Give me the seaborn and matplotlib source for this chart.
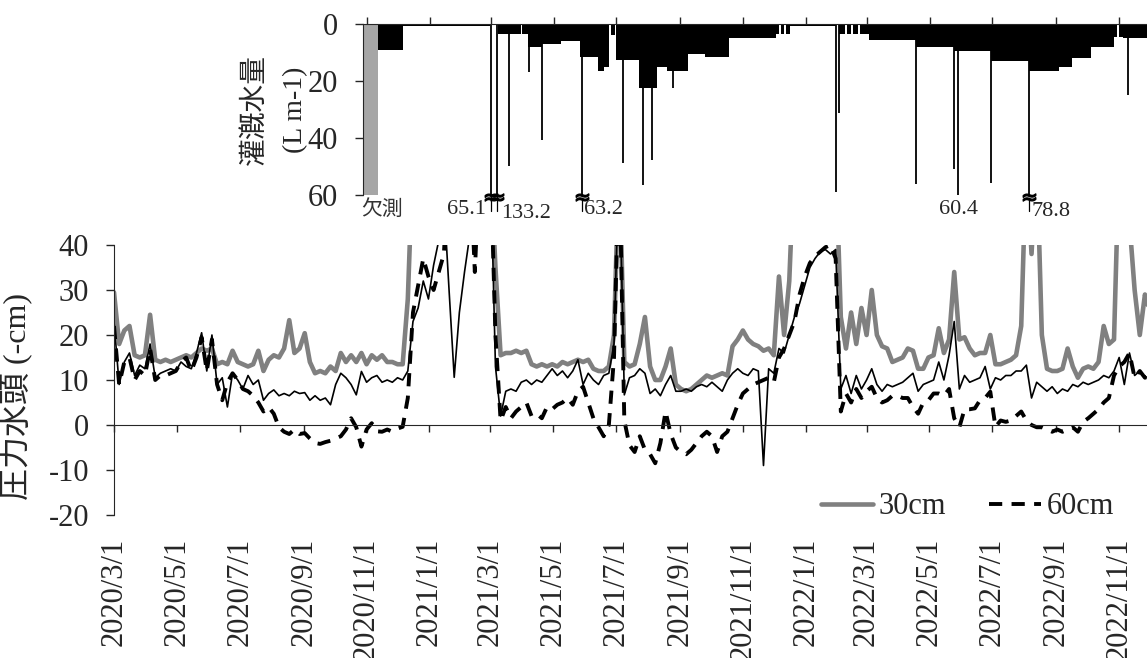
import numpy as np
import pandas as pd
import matplotlib
matplotlib.use("Agg")
import matplotlib.pyplot as plt
import seaborn as sns

sns.set_style("ticks")
plt.rcParams["font.family"] = ["Liberation Serif", "Noto Sans CJK JP"]
plt.rcParams["axes.unicode_minus"] = False

# pressure head, read every 5 days from 2020/3/1 (values above 40 run off the chart)
START = "2020-03-01"
STEP_DAYS = 5
P30 = [29.5, 18, 21, 22, 15.5, 15, 15.5, 24.5, 14.5, 14,
       14.5, 14, 14.5, 15, 15.5, 15, 16, 17, 16.5, 17,
       13.5, 14, 13.5, 16.5, 14, 13.5, 13, 13.5, 16.5, 12,
       14.5, 15.5, 15, 17, 23.3, 16, 17, 20.4, 14, 11.5,
       12, 11.5, 13, 12, 16, 14, 15.5, 14, 16, 13.5,
       15.5, 14.5, 15.5, 14, 14, 13.5, 13.5, 28, 60, 60,
       60, 60, 60, 60, 60, 60, 60, 60, 60, 60,
       60, 60, 60, 60, 35, 15.5, 16, 16, 16.5, 16,
       16.5, 13.5, 13, 13.5, 13, 13.5, 13, 14, 13.5, 14,
       14.5, 14, 14.5, 12.5, 12, 12, 13, 20, 60, 14,
       13, 13.5, 18, 24, 13, 10, 10, 13, 17, 9,
       8, 7.5, 8, 9, 10, 11, 10.5, 11, 11.5, 11,
       17.5, 19, 21, 19, 18, 17.5, 16.5, 17, 15.5, 33,
       20, 32, 60, 60, 60, 60, 60, 60, 60, 60,
       60, 24, 17, 25, 18, 26, 20, 30, 20, 17.5,
       17, 14, 14.5, 15, 17, 16.5, 12.5, 12.5, 15, 15.5,
       21.5, 16, 19, 34, 19, 19.5, 17, 15.5, 16, 16,
       20, 13.5, 13.5, 14, 14.5, 15.5, 22, 60, 38, 60,
       20, 12.5, 12, 12, 12.5, 17, 13, 10.5, 12.5, 13,
       12.5, 14, 22, 18, 19, 60, 60, 45, 30, 20,
       29, 25]
P60 = [22, 9, 14, 15, 10, 12, 11, 17, 10, 11,
       11, 11.5, 12, 14, 15, 12, 15, 19.5, 12, 19,
       9, 5.5, 9.5, 11.5, 10, 8, 7.5, 6.5, 5, 3,
       4, 2.5, -0.5, -1.5, -2, -1, -2, -1.8, -3, -4,
       -4.2, -3.8, -3.5, -3, -2.5, -1, 1.5, -0.5, -4.8, -1,
       0.4, -1.4, -1.5, -1, -1.5, -0.8, -0.4, 6, 25, 31,
       37, 33, 30, 34, 38, 60, 60, 60, 60, 60,
       34, 60, 60, 60, 20, 1, 4, 1.5, 3, 4,
       5, 2, 2.5, 1.5, 4, 3.5, 4.5, 5, 6, 4.5,
       7.5, 8.5, 5, 1.5, -0.5, -2.5, 0, 15, 60, 1,
       -4.5, -6, -2.5, -5.5, -6.5, -8.5, -4, 3, -2, -5,
       -6, -6.5, -5.5, -4, -2.5, -1.5, -2.5, -6, -2.5, -1.5,
       1.5, 4.5, 7, 8, 9, 9.5, 10, 10.5, 9.5, 15,
       17, 20, 23, 29, 33, 36, 37.5, 38.5, 39.5, 40,
       37, 3, 7, 5, 8, 6, 7.5, 8.5, 6, 5,
       5.5, 6.5, 6.5, 6, 6, 4, 2.5, 5, 5.5, 7,
       7, 6.5, 8, 1.5, -0.5, 3.5, 3.5, 3.7, 5.5, 6,
       7.4, -0.4, 1, 0.7, 1, 2, 3, 1, 0, -0.5,
       -0.5, -1, -1.5, -1, -1.5, -1, -0.5, -1.5, 0.7, 1.5,
       2.5, 3.5, 5, 6, 11, 13, 14, 16, 10.5, 12,
       10.5, 11]
P15 = [23, 9, 14, 16, 11, 13.3, 12.5, 18, 10.5, 11.5,
       12, 12.5, 12, 14, 13, 12.5, 16, 20.5, 12, 20,
       9, 10.5, 4, 11.5, 10, 8, 11, 9, 10, 5.5,
       7, 7.8, 6.5, 7, 6.5, 7.5, 7, 7.2, 5.5, 6.5,
       5.5, 6, 4.5, 9, 11.5, 10.5, 9, 6.7, 11.9, 9.5,
       10.5, 11, 9.5, 10, 9.5, 10.5, 10, 12, 23, 26,
       32, 28, 35.5, 41, 50, 30, 10.6, 25, 34, 42,
       60, 60, 60, 60, 13, 2, 7.5, 8, 7.5, 9.5,
       10, 9, 10, 9.5, 11, 12.5, 11, 12, 10.5, 12,
       14.5, 9, 11.5, 10, 9, 11, 11.5, 18, 60, 6.7,
       10.5, 11, 12.5, 11.5, 7, 8, 6.5, 9, 11, 7.5,
       7.5, 8, 7.5, 8.5, 9, 8.5, 9.5, 8.5, 7.5, 10,
       11.5, 12.5, 11.5, 11, 12.5, 12, -9, 12.5, 11.5, 17,
       16, 20, 24, 27, 31, 35, 37, 38.5, 39, 38,
       39, 8, 11, 7, 11, 8, 10, 12.5, 9, 7.5,
       9, 8.5, 9, 9.5, 10.5, 11.5, 7.5, 9, 9.5, 10,
       14, 10, 15.5, 23, 8, 11, 9.5, 10, 10.5, 13,
       8, 10.5, 10, 11, 11, 12, 12, 13.3, 6, 9.5,
       8.5, 7.5, 8.5, 7, 8, 7.5, 9, 8.5, 9.5, 9,
       9.5, 10, 11, 10.5, 12, 15, 9, 16, 11, 12,
       10.5, 11]

# irrigation: steady levels between dates, single-day peaks, missing period
IRR_START = ["2020-11-12", "2020-12-06", "2021-03-08", "2021-03-31", "2021-04-06",
             "2021-04-20", "2021-05-08", "2021-05-27", "2021-06-13", "2021-06-19",
             "2021-06-26", "2021-07-01", "2021-07-23", "2021-08-09", "2021-08-19",
             "2021-09-08", "2021-09-25", "2021-10-18", "2021-12-03", "2021-12-08",
             "2021-12-13", "2021-12-16", "2022-02-02", "2022-02-10", "2022-02-16",
             "2022-02-22", "2022-03-03", "2022-04-18", "2022-05-25", "2022-06-30",
             "2022-08-05", "2022-09-04", "2022-09-16", "2022-10-05", "2022-10-27",
             "2022-11-01", "2022-11-05"]
IRR_END = ["2020-12-06", "2021-02-28", "2021-03-30", "2021-04-06", "2021-04-20",
           "2021-05-08", "2021-05-27", "2021-06-13", "2021-06-19", "2021-06-24",
           "2021-06-30", "2021-07-23", "2021-08-09", "2021-08-19", "2021-09-08",
           "2021-09-25", "2021-10-18", "2021-12-03", "2021-12-06", "2021-12-11",
           "2021-12-16", "2022-01-30", "2022-02-08", "2022-02-14", "2022-02-20",
           "2022-03-03", "2022-04-18", "2022-05-25", "2022-06-30", "2022-08-05",
           "2022-09-04", "2022-09-16", "2022-10-05", "2022-10-27", "2022-10-30",
           "2022-11-05", "2022-12-01"]
IRR_LEVEL = [9.0, 0.8, 3.5, 3.5, 8.0,
             7.0, 6.0, 11.5, 16.5, 15.0,
             4.0, 12.5, 22.5, 15.0, 16.5,
             10.5, 11.5, 5.0, 3.5, 3.5,
             3.5, 0.8, 3.5, 3.5, 3.5,
             3.5, 5.5, 8.0, 9.5, 13.0,
             16.5, 15.0, 12.0, 8.0, 4.5,
             4.5, 5.0]
PEAK_DATE = ["2021-03-01", "2021-03-07", "2021-03-19", "2021-04-07", "2021-04-20",
             "2021-05-29", "2021-06-23", "2021-07-07", "2021-07-27", "2021-08-05",
             "2021-08-25", "2022-01-30", "2022-02-02", "2022-04-18", "2022-05-25",
             "2022-05-29", "2022-06-30", "2022-08-05", "2022-11-10"]
PEAK_VALUE = [65.1, 133.2, 50, 16.7, 40.7,
              63.2, 15, 48.9, 56.5, 47.7,
              22.5, 58.8, 31.3, 56, 51,
              60.4, 55.9, 78.8, 24.9]
MISSING = ("2020-10-28", "2020-11-12")

TICK_DATES = ["2020-03-01", "2020-05-01", "2020-07-01", "2020-09-01", "2020-11-01",
              "2021-01-01", "2021-03-01", "2021-05-01", "2021-07-01", "2021-09-01",
              "2021-11-01", "2022-01-01", "2022-03-01", "2022-05-01", "2022-07-01",
              "2022-09-01", "2022-11-01"]

# where the labels of the off-scale peaks sit: (ha, top in L m-1, shift in days)
PEAK_LABEL_STYLE = {"2021-03-01": ("right", 61.8, -5), "2021-03-07": ("left", 63.0, 4),
                    "2021-05-29": ("left", 61.8, 2), "2022-05-29": ("center", 61.8, 0),
                    "2022-08-05": ("left", 62.5, 3)}

X_MIN, X_MAX = pd.Timestamp("2020-03-01"), pd.Timestamp("2022-11-28")
X_MIN_TOP = pd.Timestamp(MISSING[0])
FS = 22

df = pd.DataFrame({
    "date": pd.date_range(START, periods=len(P30), freq=f"{STEP_DAYS}D"),
    "p30": P30, "p60": P60, "p15": P15,
})
ticks = pd.to_datetime(TICK_DATES)
tick_labels = [f"{d.year}/{d.month}/{d.day}" for d in ticks]

W, H = 1147, 658
fig = plt.figure(figsize=(W / 100, H / 100), dpi=100)
ax = fig.add_axes([114 / W, 1 - 515 / H, 1 - 114 / W, 270 / H])
ax2 = fig.add_axes([363 / W, 1 - 195 / H, 1 - 363 / W, 171 / H])

# ---- pressure head panel
sns.lineplot(data=df, x="date", y="p30", ax=ax, color="#808080", lw=3.3, label="30cm")
sns.lineplot(data=df, x="date", y="p60", ax=ax, color="black", lw=2.8,
             linestyle=(0, (3.4, 2.4)), label="60cm")
sns.lineplot(data=df, x="date", y="p15", ax=ax, color="black", lw=1.2, legend=False)

# spine first: moving it resets the ticks
ax.spines["bottom"].set_position(("data", 0))
for s in ["top", "right"]:
    ax.spines[s].set_visible(False)
ax.set_xlim(X_MIN, X_MAX)
ax.set_ylim(-20, 40)
ax.set_yticks(range(-20, 41, 10))
ax.set_xticks(ticks)
ax.set_xticklabels(tick_labels)
ax.tick_params(axis="x", direction="out", length=5, width=1, pad=76, labelsize=FS,
               labelrotation=90)
ax.tick_params(axis="y", direction="out", length=6, width=1, pad=12, labelsize=FS)
ax.set_xlabel("")
ax.set_ylabel("圧力水頭 (-cm)", fontsize=23)
ax.yaxis.set_label_coords(-0.078, 0.44)
ax.legend(loc="lower right", bbox_to_anchor=(0.995, -0.125), ncol=2, frameon=False,
          fontsize=FS, handlelength=1.7, handletextpad=0.2, columnspacing=1.4)

# ---- irrigation panel
starts = pd.to_datetime(IRR_START)
ends = pd.to_datetime(IRR_END)
ax2.bar(starts, IRR_LEVEL, width=(ends - starts), align="edge", color="black", lw=0)
ms, me = pd.Timestamp(MISSING[0]), pd.Timestamp(MISSING[1])
ax2.bar([ms], [60], width=[me - ms], align="edge", color="#a6a6a6", lw=0)
peaks = pd.to_datetime(PEAK_DATE)
ax2.vlines(peaks, 0, PEAK_VALUE, color="black", lw=1.3)

for d, v in zip(PEAK_DATE, PEAK_VALUE):
    if v <= 60:
        continue
    t = pd.Timestamp(d)
    if v > 61:
        ax2.plot([t], [60.6], marker=r"$\approx$", ms=9, color="black", clip_on=False)
        ax2.plot([t, t], [61.5, 65.5], color="black", lw=0.9, clip_on=False)
    ha, ytop, dx = PEAK_LABEL_STYLE[d]
    ax2.text(t + pd.Timedelta(days=dx), ytop, f"{v}", ha=ha, va="top",
             fontsize=16, clip_on=False)
ax2.text(ms - pd.Timedelta(days=2), 61.8, "欠測", ha="left", va="top",
         fontsize=15, color="#333333")

ax2.set_xlim(X_MIN_TOP, X_MAX)
ax2.set_ylim(60, 0)
ax2.set_yticks([0, 20, 40, 60])
ax2.set_xticks([t for t in ticks if t >= X_MIN_TOP])
ax2.xaxis.tick_top()
ax2.tick_params(axis="x", direction="out", length=5, width=1, labeltop=False, labelbottom=False)
ax2.tick_params(axis="y", direction="out", length=6, width=1, pad=12, labelsize=FS)
for s in ["bottom", "right"]:
    ax2.spines[s].set_visible(False)
ax2.set_ylabel("灌漑水量\n(L m-1)", fontsize=20, labelpad=0, linespacing=1.8)

fig.savefig("out.png", dpi=100)
